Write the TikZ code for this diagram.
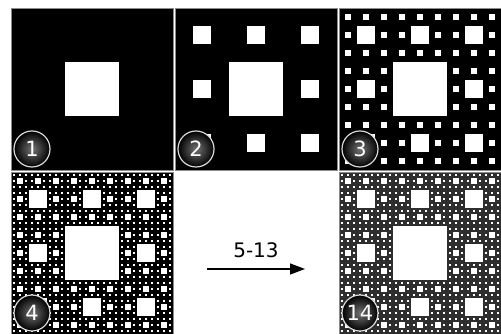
\documentclass[tikz,border=0pt]{standalone}
\usepackage{fontspec}
\setsansfont{DejaVu Sans}
\usetikzlibrary{arrows.meta}
\usetikzlibrary{positioning}

% white holes of a carpet: x, y, size, depth
\newcommand\carpet[4]{%
  \pgfmathsetmacro\cs{#3/3}%
  \fill[white] (#1+\cs,#2+\cs) rectangle ++(\cs,\cs);
  \ifnum#4>1
    \foreach \i in {0,1,2}{%
      \foreach \j in {0,1,2}{%
        \ifnum\i\j=11 \else
          \pgfmathsetmacro\cx{#1+\i*\cs}%
          \pgfmathsetmacro\cy{#2+\j*\cs}%
          \edef\nextcall{\noexpand\carpet{\cx}{\cy}{\cs}{\the\numexpr#4-1\relax}}%
          \nextcall
        \fi}}%
  \fi}

\begin{document}
\begin{tikzpicture}[x=1pt,y=1pt]

      \tikzset{panel/.style = {draw=black!45,line width=0.8pt}}
      \tikzset{badge/.style = {shape=circle,draw=black!15,line width=1.2pt,minimum size=36pt,inner sep=0pt,
                               shading=radial,inner color=black!55,outer color=black,text=white,
                               font=\sffamily\fontsize{21}{21}\selectfont}}
      \tikzset{step arrow/.style = {line width=1.2pt,-{Triangle[length=15pt,width=11pt]}}}
      \useasboundingbox (0,0) rectangle (501,334);
      % panels
      \fill[panel,fill=black] (11,164) rectangle ++(162,162);
      \carpet{11}{164}{162}{1}
      \fill[panel,fill=black] (175,164) rectangle ++(162,162);
      \carpet{175}{164}{162}{2}
      \fill[panel,fill=black] (339,164) rectangle ++(162,162);
      \carpet{339}{164}{162}{3}
      \fill[panel,fill=black] (11,0) rectangle ++(162,162);
      \carpet{11}{0}{162}{4}
      \fill[panel,fill=black!82] (339,0) rectangle ++(162,162);
      \carpet{339}{0}{162}{4}
      % badges
      \node[badge] (n1)  at (32,185) {1};
      \node[badge] (n2)  at (196,185) {2};
      \node[badge] (n3)  at (360,185) {3};
      \node[badge] (n4)  at (32,21)  {4};
      \node[badge] (n14) at (360,21) {14};
      % arrow
      \coordinate (from) at (207,65);
      \coordinate (to)   at (305,65);
      \draw[step arrow] (from) -- node[above=7pt,font=\sffamily\fontsize{20}{20}\selectfont] (steps) {5-13} (to);
\end{tikzpicture}
\end{document}
